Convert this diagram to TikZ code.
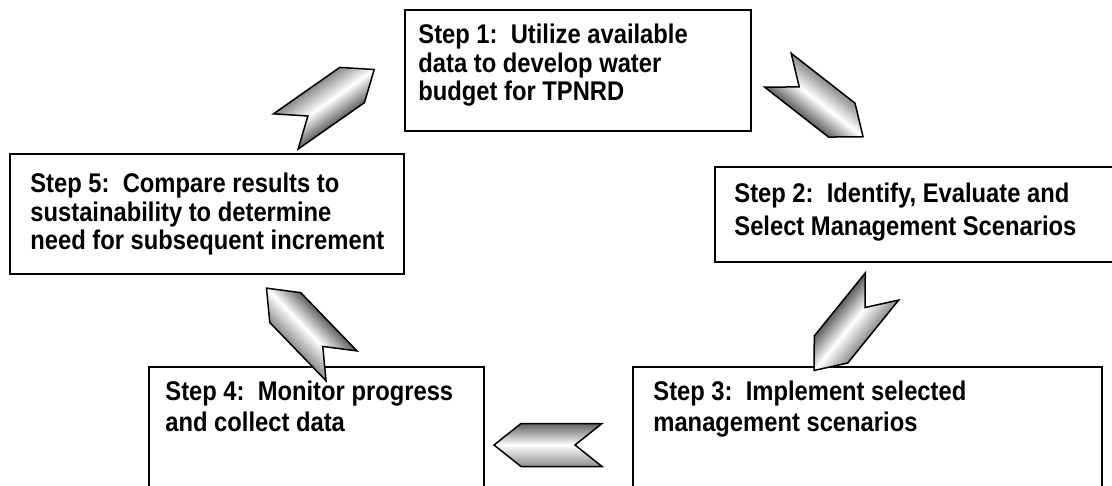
\documentclass[tikz,border=0pt]{standalone}
\usepackage{fontspec}
\setmainfont{Liberation Sans}[FakeStretch=0.88]

% shaded chevron: centre x, centre y, angle
\newcommand{\chevArrow}[3]{%
  \begin{scope}[transform canvas={shift={(#1,#2)}, rotate=#3}]
    \shade[chevron] (-54,-21.5) -- (27,-21.5) -- (54,0) -- (27,21.5) -- (-54,21.5) -- (-27,0) -- cycle;
  \end{scope}}

\begin{document}
\begin{tikzpicture}[x=0.5pt, y=-0.5pt,
    stepBox/.style={rectangle, draw, line width=1pt, fill=white, inner sep=0pt, anchor=north west},
    stepText/.style={inner sep=0pt, anchor=north west, align=left, font=\fontsize{13.5}{14.25}\selectfont\bfseries},
    chevron/.style={draw, line width=0.75pt, top color=black!45, bottom color=black!62, middle color=white}]
	\useasboundingbox (0,0) rectangle (1112,486);
	\clip (0,0) rectangle (1112,486);

	% boxes
	\node[stepBox, minimum width=173pt, minimum height=60.5pt](step1Box) at (404,9){};
	\node[stepBox, minimum width=201pt, minimum height=47.5pt](step2Box) at (714,166){};
	\node[stepBox, minimum width=234.5pt, minimum height=77pt](step3Box) at (632,366){};
	\node[stepBox, minimum width=167.5pt, minimum height=77pt](step4Box) at (148,366){};
	\node[stepBox, minimum width=197pt, minimum height=60pt](step5Box) at (9,153){};

	% texts
	\node[stepText](step1Text) at (418,24){Step 1:\ \ Utilize available\\data to develop water\\budget for TPNRD};
	\node[stepText, font=\fontsize{13.5}{16.5}\selectfont\bfseries](step2Text) at (734,183){Step 2:\ \ Identify, Evaluate and\\Select Management Scenarios};
	\node[stepText, font=\fontsize{13.5}{15.5}\selectfont\bfseries](step3Text) at (653,381){Step 3:\ \ Implement selected\\management scenarios};
	\node[stepText, font=\fontsize{13.5}{15.5}\selectfont\bfseries](step4Text) at (165,381){Step 4:\ \ Monitor progress\\and collect data};
	\node[stepText](step5Text) at (30,173){Step 5:\ \ Compare results to\\sustainability to determine\\need for subsequent increment};

	% arrows
	\chevArrow{820.5}{103.5}{-38}
	\chevArrow{848}{328.5}{-129}
	\chevArrow{548}{445}{180}
	\chevArrow{304}{327}{134}
	\chevArrow{330}{100.5}{35}
\end{tikzpicture}
\end{document}
